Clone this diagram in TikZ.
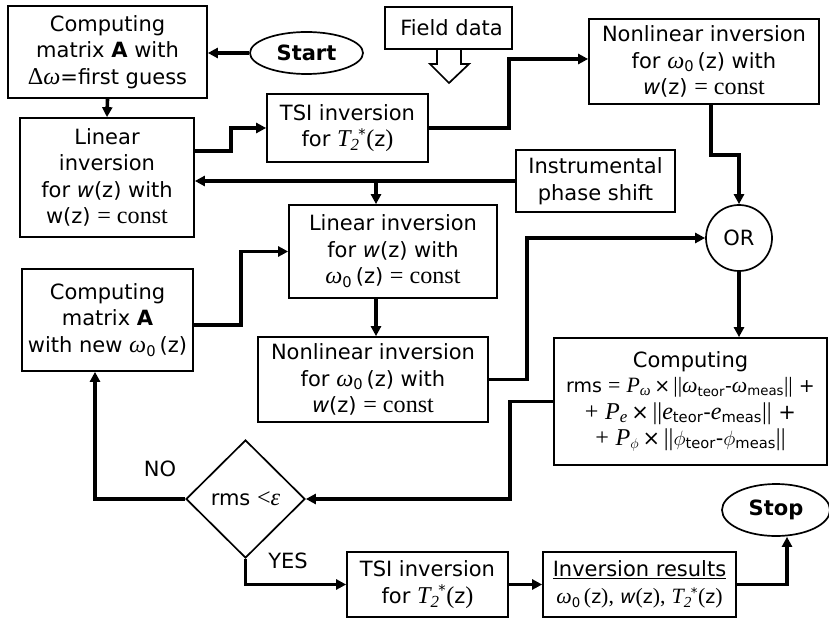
\documentclass[tikz,border=0pt]{standalone}
\usepackage{fontspec}
\setmainfont{DejaVu Sans}
\newfontfamily\tms[Scale=1.15]{Liberation Serif}
\usetikzlibrary{arrows.meta,shapes.geometric,calc}
\newcommand\tm[1]{{\tms #1}}
\newcommand\ti[1]{{\tms\itshape #1}}
\newcommand\Ttwo{\ti{T}\textsubscript{\ti{2}}\kern-1pt\textsuperscript{*}\tm{(}z\tm{)}}
\tikzset{
  base/.style={draw, line width=1.7pt, align=center, inner sep=2pt, font=\fontsize{21}{26.5}\selectfont},
  box/.style={base, rectangle},
  oval/.style={base, ellipse, inner sep=0pt},
  arr/.style={line width=3.6pt, -{Triangle[length=10pt,width=10pt]}},
  lbl/.style={font=\fontsize{21}{24}\selectfont, inner sep=0pt}
}
\begin{document}
\begin{tikzpicture}[x=1pt,y=-1pt]
\useasboundingbox (0,0) rectangle (829,620);
% nodes
\node[box, minimum width=199pt, minimum height=92pt] (b1) at (107.5,52)
  {Computing\\ matrix \textbf{A} with\\ \tm{Δ}\ti{ω}=first guess};
\node[oval, minimum width=113pt, minimum height=42pt] (start) at (306.5,53) {\textbf{Start}};
\node[box, minimum width=127pt, minimum height=42pt] (field) at (448.5,28) {\hspace{6pt}Field data};
\node[box, minimum width=161pt, minimum height=68pt] (tsi1) at (347.5,128)
  {TSI inversion\\ for \Ttwo};
\node[box, minimum width=230pt, minimum height=85pt] (nl1) at (704,61.5)
  {Nonlinear inversion\\ for \ti{ω}\textsubscript{0}\,(z) with\\ \textit{w}(z) \tm{= const}};
\node[box, minimum width=174pt, minimum height=119pt] (lin1) at (107,177.5)
  {Linear\\ inversion\\ for \textit{w}(z) with\\ w(z) \tm{= const}};
\node[box, minimum width=159pt, minimum height=62pt] (instr) at (595.5,181)
  {Instrumental\\ phase shift};
\node[box, minimum width=208pt, minimum height=93pt] (lin2) at (393,251.5)
  {Linear inversion\\ for \textit{w}(z) with\\ \ti{ω}\textsubscript{0}\,(z) \tm{= const}};
\node[box, minimum width=230pt, minimum height=85pt] (nl2) at (373,379.5)
  {Nonlinear inversion\\ for \ti{ω}\textsubscript{0}\,(z) with\\ \textit{w}(z) \tm{= const}};
\node[base, circle, inner sep=0pt, minimum size=66pt] (or) at (739,238) {OR};
\node[box, minimum width=171pt, minimum height=102pt] (cmpA) at (107.5,320)
  {Computing\\ matrix \textbf{A}\\ with new \ti{ω}\textsubscript{0}\,(z)};
\node[box, minimum width=273pt, minimum height=127pt] (rms) at (690.5,401.5)
  {Computing\\[-1pt]
   \fontsize{19}{26.5}\selectfont
   rms \tm{=} \ti{P}\textsubscript{\ti{ω}}\,×\,\tm{||}\ti{ω}\textsubscript{teor}-\ti{ω}\textsubscript{meas}\tm{||} +\\
   \tm{+} \ti{P}\textsubscript{\ti{e}}\,×\,\tm{||}\ti{e}\textsubscript{teor}-\ti{e}\textsubscript{meas}\tm{||} +\\
   \tm{+} \ti{P}\textsubscript{$\phi$}\,×\,\tm{||}$\phi$\textsubscript{teor}-$\phi$\textsubscript{meas}\tm{||}};
\node[base, diamond, inner sep=0pt, minimum width=119pt, minimum height=118pt] (dia) at (245.5,499)
  {rms \tm{<}\ti{ε}};
\node[box, minimum width=161pt, minimum height=65pt] (tsi2) at (427.5,584.5)
  {TSI inversion\\ for \Ttwo};
\node[box, minimum width=193pt, minimum height=65pt] (res) at (639.5,584.5)
  {\underline{Inversion results}\\ \fontsize{19}{26.5}\selectfont\ti{ω}\textsubscript{0}\,\tm{(}z\tm{),} \textit{w}\tm{(}z\tm{),} \Ttwo};
\node[oval, minimum width=108pt, minimum height=52pt] (stop) at (776,510) {\textbf{Stop}};
% hollow arrow under Field data
\draw[line width=1.7pt, line join=miter] (437,49) -- (437,64) -- (430,64) -- (449,83) -- (469,64) -- (461,64) -- (461,49);
% connectors
\coordinate (j1) at (376,181);
\draw[arr] (start.west) -- (start.west -| b1.east);
\draw[arr] (b1.south) -- (lin1.north);
\draw[arr] ([yshift=26.5pt]lin1.east) -- ++(36,0) |- (tsi1.west);
\draw[arr] (tsi1.east) -- ++(80,0) |- ([yshift=2.5pt]nl1.west);
\draw[arr] ([xshift=7pt]nl1.south) -- ++(0,50) -| (or.north);
\draw[arr] (instr.west) -- (instr.west -| lin1.east);
\draw[arr] (j1) -- (j1 |- lin2.north);
\draw[arr] (j1 |- lin2.south) -- (j1 |- nl2.north);
\draw[arr] ([yshift=-5pt]cmpA.east) -- ++(47,0) |- (lin2.west);
\draw[arr] (nl2.east) -- ++(38,0) |- (or.west);
\draw[arr] (or.south) -- (or.south |- rms.north);
\draw[arr] (rms.west) -- ++(-43,0) |- (dia.east);
\draw[arr] (dia.west) -| ([xshift=-12.5pt]cmpA.south);
\draw[arr] (dia.south) |- (tsi2.west);
\draw[arr] (tsi2.east) -- (res.west);
\draw[arr] (res.east) -| ([xshift=11pt]stop.south);
\node[lbl] (no) at (160,469) {NO};
\node[lbl] (yes) at (288,561) {YES};
\end{tikzpicture}
\end{document}
